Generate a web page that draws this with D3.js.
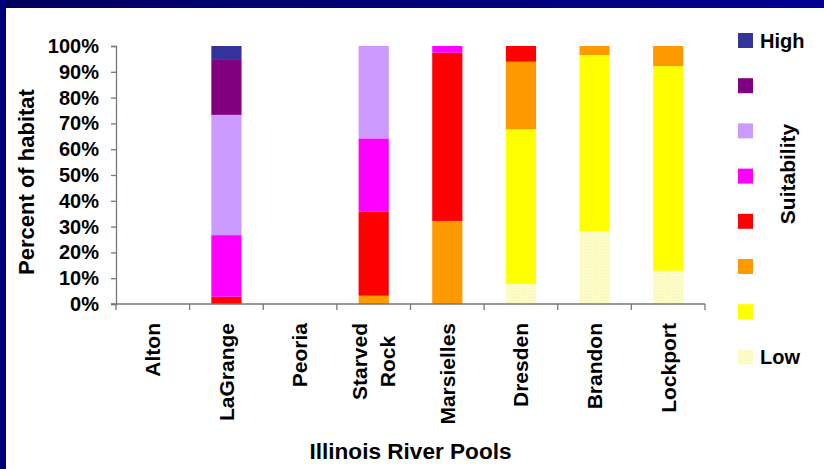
<!DOCTYPE html>
<html>
<head>
<meta charset="utf-8">
<script src="https://cdn.jsdelivr.net/npm/d3@7"></script>
<style>
  html, body { margin: 0; padding: 0; background: #ffffff; }
  svg { display: block; }
  text { font-family: "Liberation Sans", Arial, sans-serif; font-weight: bold; fill: #000; }
</style>
</head>
<body>
<svg id="chart" width="824" height="469"></svg>
<script>
// Illinois River pools, share of habitat in each suitability class (percent)
const pools = ["Alton", "LaGrange", "Peoria", "Starved Rock", "Marsielles", "Dresden", "Brandon", "Lockport"];

// Suitability classes from low (bottom of stack) to high (top of stack)
const classes = ["Low", "S2", "S3", "S4", "S5", "S6", "S7", "High"];
const classColors = ["#FFFFCC", "#FFFF00", "#FF9900", "#FF0000", "#FF00FF", "#CC99FF", "#800080", "#333399"];

const lowValues   = [0, 0,    0, 0,    0,    7.8,  28.3, 12.9];
const s2Values    = [0, 0,    0, 0,    0,    59.9, 68.2, 79.3];
const s3Values    = [0, 0,    0, 3.2,  32.2, 26.2, 3.5,  7.8];
const s4Values    = [0, 2.8,  0, 32.6, 65.2, 6.1,  0,    0];
const s5Values    = [0, 23.9, 0, 28.4, 2.6,  0,    0,    0];
const s6Values    = [0, 46.6, 0, 35.8, 0,    0,    0,    0];
const s7Values    = [0, 21.3, 0, 0,    0,    0,    0,    0];
const highValues  = [0, 5.4,  0, 0,    0,    0,    0,    0];

const yTicks = [0, 10, 20, 30, 40, 50, 60, 70, 80, 90, 100];

const seriesValues = [lowValues, s2Values, s3Values, s4Values, s5Values, s6Values, s7Values, highValues];
const rows = pools.map((p, i) => {
  const r = { pool: p };
  classes.forEach((c, k) => { r[c] = seriesValues[k][i]; });
  return r;
});

const svg = d3.select("#chart");
const W = 824, H = 469;

// slide frame: navy band along top and left edge
const defs = svg.append("defs");
const grad = defs.append("linearGradient").attr("id", "frameGrad")
  .attr("x1", "0%").attr("x2", "100%").attr("y1", "0%").attr("y2", "0%");
grad.append("stop").attr("offset", "0%").attr("stop-color", "#00005e");
grad.append("stop").attr("offset", "100%").attr("stop-color", "#000090");

// pale hatch fill for the lowest class
const pat = defs.append("pattern").attr("id", "lowHatch")
  .attr("patternUnits", "userSpaceOnUse").attr("width", 3).attr("height", 3);
pat.append("rect").attr("width", 3).attr("height", 3).attr("fill", "#FFFFCC");
pat.append("rect").attr("x", 0).attr("y", 0).attr("width", 1).attr("height", 1).attr("fill", "#F4EFB4");
pat.append("rect").attr("x", 1.5).attr("y", 1.5).attr("width", 1).attr("height", 1).attr("fill", "#F4EFB4");

svg.append("rect").attr("x", 0).attr("y", 0).attr("width", W).attr("height", 8).attr("fill", "url(#frameGrad)");
svg.append("rect").attr("x", 0).attr("y", 0).attr("width", 6).attr("height", H).attr("fill", "#00007a");

const plot = { left: 116, right: 705, top: 46, bottom: 304 };

const x = d3.scaleBand().domain(pools).range([plot.left, plot.right])
  .paddingInner(0.59).paddingOuter(0.295);
const xCat = d3.scaleBand().domain(pools).range([plot.left, plot.right]).padding(0);
const y = d3.scaleLinear().domain([0, 100]).range([plot.bottom, plot.top]);

const fillFor = (c, k) => c === "Low" ? "url(#lowHatch)" : classColors[k];

// stacked bars
const stack = d3.stack().keys(classes)(rows);
svg.append("g").selectAll("g").data(stack).join("g")
  .attr("fill", (s, k) => fillFor(s.key, k))
  .selectAll("rect").data(s => s.filter(d => d[1] - d[0] > 0)).join("rect")
  .attr("x", d => x(d.data.pool))
  .attr("width", x.bandwidth())
  .attr("y", d => y(d[1]))
  .attr("height", d => y(d[0]) - y(d[1]));

// y axis
const yAxis = svg.append("g").attr("transform", `translate(${plot.left},0)`)
  .call(d3.axisLeft(y).tickValues(yTicks).tickFormat(d => d + "%").tickSize(5).tickPadding(12));
yAxis.select(".domain").attr("stroke", "#777").attr("stroke-width", 1.3);
yAxis.selectAll(".tick line").attr("stroke", "#777").attr("stroke-width", 1.3);
yAxis.selectAll("text").attr("font-size", 20).attr("font-family", "Liberation Sans, Arial, sans-serif")
  .attr("font-weight", "bold").attr("fill", "#000");

// x axis baseline and category divider ticks
const xAxisG = svg.append("g");
xAxisG.append("line").attr("x1", plot.left - 5).attr("x2", plot.right)
  .attr("y1", plot.bottom).attr("y2", plot.bottom).attr("stroke", "#777").attr("stroke-width", 1.5);
const dividers = pools.map(p => xCat(p)).concat([xCat(pools[pools.length - 1]) + xCat.bandwidth()]);
xAxisG.selectAll("line.div").data(dividers).join("line").attr("class", "div")
  .attr("x1", d => d).attr("x2", d => d)
  .attr("y1", plot.bottom).attr("y2", plot.bottom + 6)
  .attr("stroke", "#777").attr("stroke-width", 1.3);

// rotated category labels (multi-word names wrap, lines centred)
const labelTop = 323;
const catG = svg.append("g");
pools.forEach(p => {
  const lines = p.split(" ");
  const cx = xCat(p) + xCat.bandwidth() / 2;
  const t = catG.append("text").attr("font-size", 21).attr("text-anchor", "middle");
  const lh = 28;
  const n = lines.length;
  lines.forEach((ln, i) => {
    t.append("tspan").attr("x", 0).attr("y", (i - (n - 1) / 2) * lh).attr("dy", "0.35em").text(ln);
  });
  const maxLen = d3.max(t.selectAll("tspan").nodes(), n2 => n2.getComputedTextLength());
  t.attr("transform", `translate(${cx},${labelTop + maxLen / 2}) rotate(-90)`);
});

// axis titles
svg.append("text").attr("x", (plot.left + plot.right) / 2).attr("y", 459)
  .attr("text-anchor", "middle").attr("font-size", 22.6).text("Illinois River Pools");
svg.append("text").attr("transform", `translate(34,182) rotate(-90)`)
  .attr("text-anchor", "middle").attr("font-size", 22).text("Percent of habitat");

// legend, highest class at top
const legendItems = classes.slice().reverse();
const legend = svg.append("g");
legendItems.forEach((c, i) => {
  const k = classes.indexOf(c);
  const cy = 40.5 + i * 45.2;
  legend.append("rect").attr("x", 738).attr("y", cy - 7.5).attr("width", 15).attr("height", 15)
    .attr("fill", fillFor(c, k));
  if (c === "High" || c === "Low") {
    legend.append("text").attr("x", 760).attr("y", cy).attr("dy", "0.36em")
      .attr("font-size", 20).text(c);
  }
});
svg.append("text").attr("transform", `translate(795,174) rotate(-90)`)
  .attr("text-anchor", "middle").attr("font-size", 21).text("Suitability");
</script>
</body>
</html>
